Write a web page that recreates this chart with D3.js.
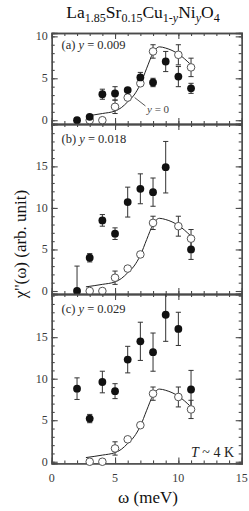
<!DOCTYPE html>
<html>
<head>
<meta charset="utf-8">
<script src="https://cdn.jsdelivr.net/npm/d3@7"></script>
<style>
  html, body { margin: 0; padding: 0; background: #fff; }
</style>
</head>
<body>
<svg id="chart" width="249" height="511"></svg>
<script>
// ---------- data ----------
const energies = [2, 3, 4, 5, 6, 7, 8, 9, 10, 11];

// y = 0 reference (open circles), same in every panel
const refX   = [3, 4, 5, 6, 7, 8, 10, 11];
const refY   = [0, 0, 1.6, 2.7, 4.4, 8.2, 7.8, 6.3];
const refErr = [0, 0, 0.8, 0, 0, 0.8, 1.2, 1.1];

// fit curve through the y = 0 data
const fitX = [2.7, 4, 5, 5.5, 6, 6.5, 7, 7.5, 8, 8.5, 9, 10, 11];
const fitY = [0.5, 0.8, 1.1, 1.5, 2.2, 3.0, 4.3, 6.2, 8.0, 8.75, 8.6, 7.9, 6.6];

// y = 0.009
const aY   = [0, 0.4, 3.1, 3.2, 3.6, 5.1, 4.5, 7.0, 5.2, 3.8];
const aErr = [0, 0, 0.6, 0.8, 0, 0.6, 0.5, 1.2, 1.2, 0.6];
// y = 0.018
const bY   = [0, 4.0, 8.5, 6.9, 10.7, 12.3, 11.9, 14.9, null, 5.0];
const bErr = [3.0, 0.5, 0.7, 0.7, 1.8, 1.8, 1.7, 3.1, null, 1.2];
// y = 0.029
const cY   = [8.8, 5.2, 9.6, 8.5, 12.3, 14.5, 13.2, 17.7, 16.0, 8.7];
const cErr = [1.3, 0.5, 1.3, 0.9, 1.6, 2.3, 2.3, 3.2, 2.0, 2.3];

const panelLabels = ["(a)", "(b)", "(c)"];
const panelDoping = ["0.009", "0.018", "0.029"];
const xTicks = [0, 5, 10, 15];
const yTicksA = [0, 5, 10];
const yTicksBC = [0, 5, 10, 15];

// ---------- layout ----------
const FONT = "Liberation Serif";
const svg = d3.select("#chart");
const left = 51.7, right = 241.7;
const x = d3.scaleLinear().domain([0, 15]).range([left, right]);

const panels = [
  { top: 33,  bottom: 124,   dom: [-0.45, 10.4], ys: aY, errs: aErr, ticks: yTicksA, maxMinor: 10 },
  { top: 124, bottom: 294,   dom: [-0.36, 20.1], ys: bY, errs: bErr, ticks: yTicksBC, maxMinor: 20 },
  { top: 294, bottom: 463.4, dom: [-0.2, 20.2],  ys: cY, errs: cErr, ticks: yTicksBC, maxMinor: 20 }
];

const axisColor = "#4a4a4a";
const textColor = "#3a3a3a";

panels.forEach((p, i) => {
  const y = d3.scaleLinear().domain(p.dom).range([p.bottom, p.top]);
  const g = svg.append("g");
  const clipId = "clip" + i;
  svg.append("clipPath").attr("id", clipId)
    .append("rect").attr("x", left).attr("y", p.top)
    .attr("width", right - left).attr("height", p.bottom - p.top);

  const xMinor = d3.range(1, 15);
  const yMinor = d3.range(0, p.maxMinor + 1);
  const xB = d3.axisBottom(x).tickValues(xMinor).tickSize(-3).tickFormat("");
  const xBM = d3.axisBottom(x).tickValues([5, 10]).tickSize(-6).tickFormat("");
  const xT = d3.axisTop(x).tickValues(xMinor).tickSize(-3).tickFormat("");
  const xTM = d3.axisTop(x).tickValues([5, 10]).tickSize(-6).tickFormat("");
  const yL = d3.axisLeft(y).tickValues(yMinor).tickSize(-3).tickFormat("");
  const yLM = d3.axisLeft(y).tickValues(p.ticks).tickSize(-6).tickFormat("");
  const yR = d3.axisRight(y).tickValues(yMinor).tickSize(-3).tickFormat("");
  const yRM = d3.axisRight(y).tickValues(p.ticks).tickSize(-6).tickFormat("");

  [[xB, `translate(0,${p.bottom})`], [xBM, `translate(0,${p.bottom})`],
   [xT, `translate(0,${p.top})`], [xTM, `translate(0,${p.top})`],
   [yL, `translate(${left},0)`], [yLM, `translate(${left},0)`],
   [yR, `translate(${right},0)`], [yRM, `translate(${right},0)`]].forEach(([ax, tr]) => {
    const a = g.append("g").attr("transform", tr).call(ax);
    a.selectAll("path.domain").attr("stroke", axisColor).attr("stroke-width", 1.3);
    a.selectAll(".tick line").attr("stroke", axisColor).attr("stroke-width", 1.1);
  });

  g.selectAll("text.ylab").data(p.ticks).join("text")
    .attr("class", "ylab")
    .attr("x", left - 4).attr("y", d => y(d) + 4)
    .attr("text-anchor", "end").attr("font-size", 12).attr("fill", textColor)
    .attr("font-family", FONT)
    .text(d => d);

  const lab = g.append("text").attr("x", 61.5).attr("y", p.top + (i === 0 ? 16 : 19))
    .attr("font-size", 12.5).attr("fill", "#2a2a2a").attr("font-family", FONT);
  lab.append("tspan").text(panelLabels[i] + " ");
  lab.append("tspan").attr("font-style", "italic").text("y");
  lab.append("tspan").text(" = " + panelDoping[i]);

  const data = g.append("g").attr("clip-path", `url(#${clipId})`);

  const line = d3.line().x(d => x(d[0])).y(d => y(d[1])).curve(d3.curveMonotoneX);
  data.append("path").datum(d3.zip(fitX, fitY)).attr("d", line)
    .attr("fill", "none").attr("stroke", "#222").attr("stroke-width", 1);

  const cap = 2.6;
  function errBars(xs, ys, es) {
    xs.forEach((xv, k) => {
      const v = ys[k], e = es[k];
      if (v == null || !e) return;
      const gg = data.append("g").attr("stroke", "#333").attr("stroke-width", 1);
      gg.append("line").attr("x1", x(xv)).attr("x2", x(xv)).attr("y1", y(v - e)).attr("y2", y(v + e));
      gg.append("line").attr("x1", x(xv) - cap).attr("x2", x(xv) + cap).attr("y1", y(v - e)).attr("y2", y(v - e));
      gg.append("line").attr("x1", x(xv) - cap).attr("x2", x(xv) + cap).attr("y1", y(v + e)).attr("y2", y(v + e));
    });
  }
  errBars(refX, refY, refErr);
  errBars(energies, p.ys, p.errs);

  g.selectAll("circle.ref").data(d3.zip(refX, refY)).join("circle")
    .attr("class", "ref").attr("cx", d => x(d[0])).attr("cy", d => y(d[1])).attr("r", 3.8)
    .attr("fill", "#fff").attr("stroke", "#555").attr("stroke-width", 1);

  g.selectAll("circle.dop").data(d3.zip(energies, p.ys).filter(d => d[1] != null)).join("circle")
    .attr("class", "dop").attr("cx", d => x(d[0])).attr("cy", d => y(d[1])).attr("r", 3.9)
    .attr("fill", "#111");

  if (i === 0) {
    g.append("line").attr("x1", x(6.55)).attr("y1", y(2.7)).attr("x2", x(7.4)).attr("y2", y(1.7))
      .attr("stroke", "#444").attr("stroke-width", 0.9);
    const t = g.append("text").attr("x", 147).attr("y", 113).attr("font-size", 11)
      .attr("fill", "#444").attr("font-family", FONT);
    t.append("tspan").attr("font-style", "italic").text("y");
    t.append("tspan").text(" = 0");
  }
  if (i === 2) {
    const t = g.append("text").attr("x", 234).attr("y", 457).attr("text-anchor", "end")
      .attr("font-size", 14).attr("fill", "#222").attr("font-family", FONT);
    t.append("tspan").attr("font-style", "italic").text("T");
    t.append("tspan").text(" ~ 4 K");
  }
});

svg.selectAll("text.xlab").data(xTicks).join("text")
  .attr("class", "xlab").attr("x", d => x(d)).attr("y", 482)
  .attr("text-anchor", "middle").attr("font-size", 12).attr("fill", textColor)
  .attr("font-family", FONT)
  .text(d => d);

svg.append("text").attr("x", 148).attr("y", 503).attr("text-anchor", "middle")
  .attr("font-size", 17).attr("fill", "#111").attr("font-family", FONT).text("ω (meV)");

svg.append("text").attr("transform", "translate(26,244) rotate(-90)")
  .attr("text-anchor", "middle").attr("font-size", 17).attr("fill", "#111")
  .attr("font-family", FONT)
  .text("χ''(ω) (arb. unit)");

const title = svg.append("text").attr("x", 143).attr("y", 18).attr("text-anchor", "middle")
  .attr("font-size", 17.5).attr("fill", "#111").attr("font-family", FONT);
function sub(str, italic) {
  const s = title.append("tspan").attr("dy", 4).attr("font-size", 12).text(str);
  if (italic) s.attr("font-style", "italic");
  return s;
}
title.append("tspan").text("La");
sub("1.85");
title.append("tspan").attr("dy", -4).text("Sr");
sub("0.15");
title.append("tspan").attr("dy", -4).text("Cu");
sub("1-");
title.append("tspan").attr("font-size", 12).attr("font-style", "italic").text("y");
title.append("tspan").attr("dy", -4).text("Ni");
sub("y", true);
title.append("tspan").attr("dy", -4).text("O");
sub("4");
</script>
</body>
</html>
